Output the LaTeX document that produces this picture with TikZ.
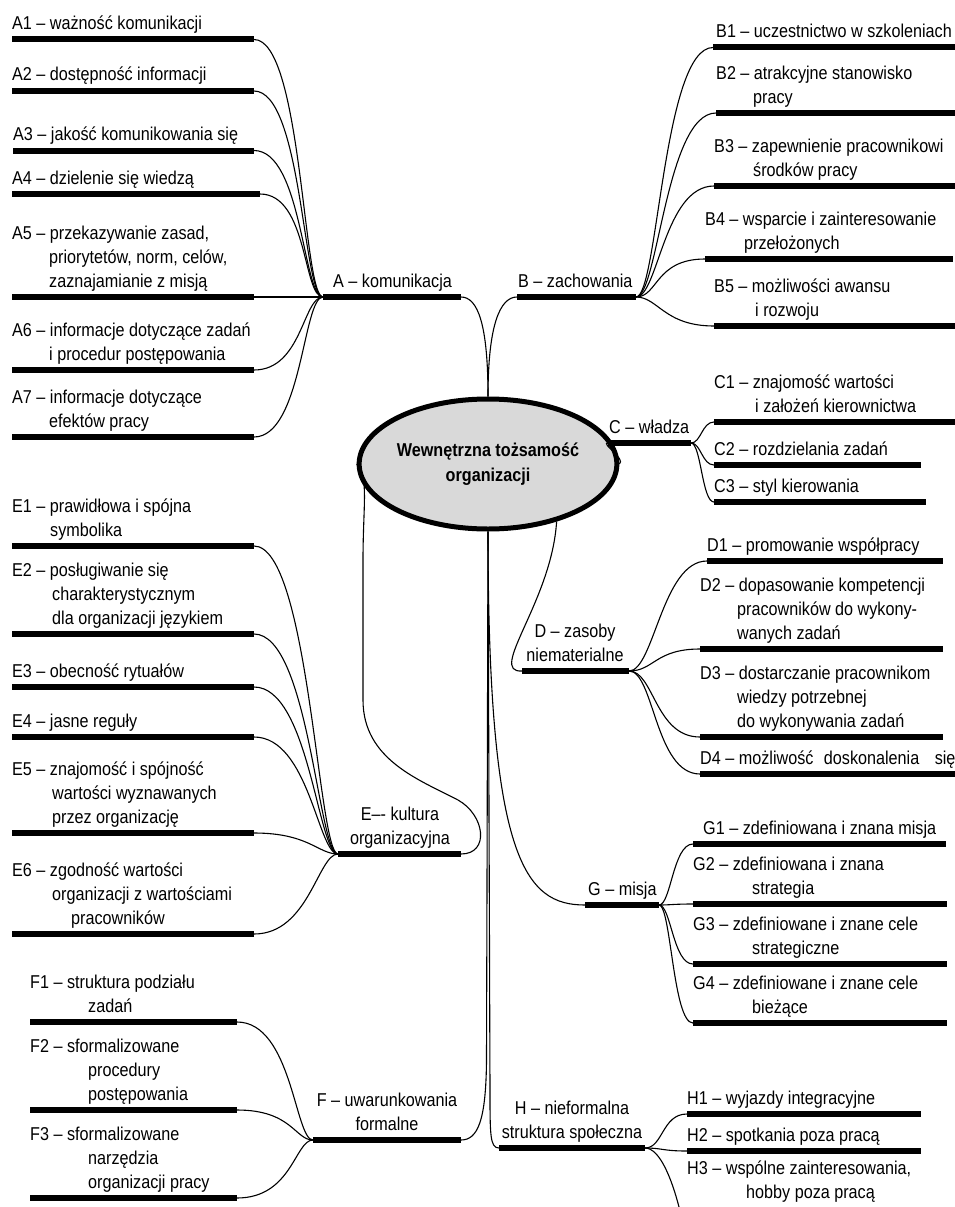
\documentclass[tikz,border=0pt]{standalone}
\usepackage{fontspec}
\setmainfont[FakeStretch=0.87]{Liberation Sans}
\usetikzlibrary{shapes.geometric}
\definecolor{ellfill}{RGB}{217,217,217}
\newcommand\llines[1]{\vbox{\baselineskip=24pt\lineskiplimit=-50pt\lineskip=0pt\halign{##\hfil\cr#1\crcr}}}
\newcommand\clines[1]{\vbox{\baselineskip=24pt\lineskiplimit=-50pt\lineskip=0pt\halign{\hfil##\hfil\cr#1\crcr}}}
\newcommand\ind[1]{\hspace*{#1pt}}
% item: name, bar x1, bar x2, bar y, text x, text
\newcommand\itm[6]{%
  \coordinate (#1-l) at (#2,#4);
  \coordinate (#1-r) at (#3,#4);
  \draw[barline] (#1-l) -- (#1-r);
  \node[itemtext] (#1-t) at (#5,#4-10) {\llines{#6}};
}
% hub with centred text
\newcommand\hub[6]{%
  \coordinate (#1-l) at (#2,#4);
  \coordinate (#1-r) at (#3,#4);
  \draw[barline] (#1-l) -- (#1-r);
  \node[hubtext] (#1-t) at (#5,#4-10) {\clines{#6}};
}
\begin{document}
\begin{tikzpicture}[x=1pt,y=-1pt,
  font=\fontsize{18.6}{24}\selectfont,
  barline/.style={line width=6pt},
  conn/.style={line width=1.1pt},
  itemtext/.style={anchor=base west,inner sep=0pt},
  hubtext/.style={anchor=base,inner sep=0pt}]
\useasboundingbox (0,0) rectangle (955,1207);

\node[ellipse,draw,line width=5pt,fill=ellfill,minimum width=205pt,minimum height=130pt,
  inner sep=0pt,align=center,font=\bfseries\fontsize{18.6}{25}\selectfont] (core) at (488,464)
  {Wewnętrzna tożsamość\\organizacji};

% hubs
\itm{A}{323}{461}{297}{333}{A – komunikacja}
\itm{B}{517}{636}{297}{518}{B – zachowania}
\itm{C}{608}{691}{443}{609}{C – władza}
\hub{D}{522}{629}{671}{575}{D – zasoby\cr niematerialne}
\hub{E}{338}{461}{854}{400}{E–{}- kultura\cr organizacyjna}
\hub{F}{313}{461}{1140}{387}{F – uwarunkowania\cr formalne}
\itm{G}{585}{659}{905}{588}{G – misja}
\hub{H}{499}{645}{1148}{572}{H – nieformalna\cr struktura społeczna}

% A
\itm{A1}{12}{254}{39.5}{12}{A1 – ważność komunikacji}
\itm{A2}{12}{254}{91}{12}{A2 – dostępność informacji}
\itm{A3}{13}{254}{150.5}{13}{A3 – jakość komunikowania się}
\itm{A4}{12}{260}{194}{12}{A4 – dzielenie się wiedzą}
\itm{A5}{12}{254}{297}{12}{A5 – przekazywanie zasad,\cr\ind{37}priorytetów, norm, celów,\cr\ind{37}zaznajamianie z misją}
\itm{A6}{12}{254}{370}{12}{A6 – informacje dotyczące zadań\cr\ind{37}i procedur postępowania}
\itm{A7}{12}{254}{437}{12}{A7 – informacje dotyczące\cr\ind{37}efektów pracy}

% B
\itm{B1}{713}{955}{47.5}{716}{B1 – uczestnictwo w szkoleniach}
\itm{B2}{716}{955}{113}{716}{B2 – atrakcyjne stanowisko\cr\ind{37}pracy}
\itm{B3}{714}{955}{186}{714}{B3 – zapewnienie pracownikowi\cr\ind{39}środków pracy}
\itm{B4}{705}{953}{259}{705}{B4 – wsparcie i zainteresowanie\cr\ind{39}przełożonych}
\itm{B5}{714}{955}{326}{714}{B5 – możliwości awansu\cr\ind{41}i rozwoju}

% C
\itm{C1}{714}{955}{422}{714}{C1 – znajomość wartości\cr\ind{41}i założeń kierownictwa}
\itm{C2}{714}{921}{465}{714}{C2 – rozdzielania zadań}
\itm{C3}{714}{926}{502}{714}{C3 – styl kierowania}

% D
\itm{D1}{707}{943}{561}{707}{D1 – promowanie współpracy}
\itm{D2}{700}{943}{649}{700}{D2 – dopasowanie kompetencji\cr\ind{37}pracowników do wykony-\cr\ind{37}wanych zadań}
\itm{D3}{700}{943}{737}{700}{D3 – dostarczanie pracownikom\cr\ind{37}wiedzy potrzebnej\cr\ind{37}do wykonywania zadań}
\itm{D4}{700}{955}{774}{700}{D4 – możliwość\hspace*{6pt} doskonalenia\hspace*{11pt} się}

% E
\itm{E1}{12}{254}{546}{12}{E1 – prawidłowa i spójna\cr\ind{38}symbolika}
\itm{E2}{12}{254}{634}{12}{E2 – posługiwanie się\cr\ind{40}charakterystycznym\cr\ind{40}dla organizacji językiem}
\itm{E3}{12}{254}{687}{12}{E3 – obecność rytuałów}
\itm{E4}{12}{254}{737}{12}{E4 – jasne reguły}
\itm{E5}{12}{254}{833}{12}{E5 – znajomość i spójność\cr\ind{40}wartości wyznawanych\cr\ind{40}przez organizację}
\itm{E6}{12}{254}{934}{12}{E6 – zgodność wartości\cr\ind{40}organizacji z wartościami\cr\ind{59}pracowników}

% F
\itm{F1}{30}{237}{1022}{30}{F1 – struktura podziału\cr\ind{58}zadań}
\itm{F2}{30}{237}{1110}{30}{F2 – sformalizowane\cr\ind{58}procedury\cr\ind{58}postępowania}
\itm{F3}{30}{237}{1198}{30}{F3 – sformalizowane\cr\ind{58}narzędzia\cr\ind{58}organizacji pracy}

% G
\itm{G1}{693}{946}{844}{703}{G1 – zdefiniowana i znana misja}
\itm{G2}{693}{947}{904}{693}{G2 – zdefiniowana i znana\cr\ind{59}strategia}
\itm{G3}{693}{947}{964}{693}{G3 – zdefiniowane i znane cele\cr\ind{59}strategiczne}
\itm{G4}{693}{947}{1023}{693}{G4 – zdefiniowane i znane cele\cr\ind{59}bieżące}

% H
\itm{H1}{687}{921}{1114}{687}{H1 – wyjazdy integracyjne}
\itm{H2}{687}{921}{1151}{687}{H2 – spotkania poza pracą}
\node[itemtext] (H3-t) at (687,1198) {\llines{H3 – wspólne zainteresowania,\cr\ind{59}hobby poza pracą}};
\coordinate (H3-end) at (679,1207);

% connectors from the core
\draw[conn] (A-r) .. controls +(17,0) and (488,325) .. (core.90);
\draw[conn] (B-l) .. controls +(-17,0) and (488,325) .. (core.90);
\draw[conn] (core.0) .. controls +(7,-5) and +(-8,0) .. (C-l);
\draw[conn] (core.-40) .. controls +(-5,80) and +(-35,2) .. (D-l);
\draw[conn] (core.180) .. controls (369,476) and (363,505) .. (363,560) -- (363,700)
  .. controls (363,760) and (420,780) .. (458,800) .. controls (485,815) and (490,854) .. (E-r);
\draw[conn] (core.270) .. controls (488,860) and (525,905) .. (G-l);
\draw[conn] (core.270) -- (486.5,1060) .. controls (486,1120) and (478,1140) .. (F-r);
\draw[conn] (core.270) -- (490,1090) .. controls (490,1135) and (490,1148) .. (H-l);

% fans
\foreach \nm in {A1,A2,A3,A4,A6,A7}
  \draw[conn] (\nm-r) .. controls +(48,0) and +(-20,0) .. (A-l);
\draw[conn] (A5-r) -- (A-l);
\foreach \nm in {B1,B2,B3,B4,B5}
  \draw[conn] (B-r) .. controls +(22,0) and +(-50,0) .. (\nm-l);
\foreach \nm in {C1,C2,C3}
  \draw[conn] (C-r) .. controls +(10,0) and +(-12,0) .. (\nm-l);
\foreach \nm in {D1,D2,D3,D4}
  \draw[conn] (D-r) .. controls +(25,0) and +(-45,0) .. (\nm-l);
\foreach \nm in {E1,E2,E3,E4,E5,E6}
  \draw[conn] (\nm-r) .. controls +(55,0) and +(-20,0) .. (E-l);
\foreach \nm in {F1,F2,F3}
  \draw[conn] (\nm-r) .. controls +(55,0) and +(-18,0) .. (F-l);
\foreach \nm in {G1,G2,G3,G4}
  \draw[conn] (G-r) .. controls +(12,0) and +(-20,0) .. (\nm-l);
\foreach \nm in {H1,H2}
  \draw[conn] (H-r) .. controls +(18,0) and +(-25,0) .. (\nm-l);
\draw[conn] (H-r) .. controls +(15,0) and (672,1180) .. (H3-end);
\end{tikzpicture}
\end{document}
